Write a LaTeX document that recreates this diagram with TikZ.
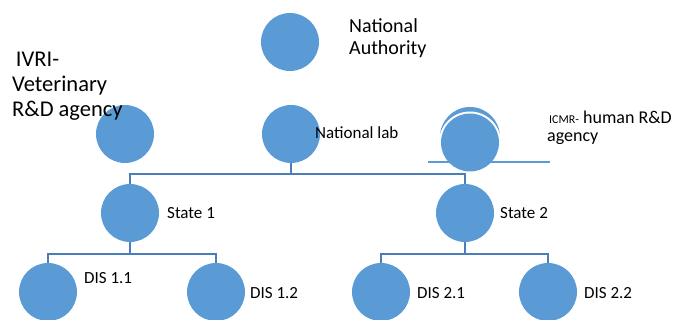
\documentclass[tikz,border=0pt]{standalone}
\usepackage{fontspec}
\setmainfont{Carlito}
\definecolor{nodefill}{HTML}{5B9BD5}
\definecolor{linec}{HTML}{4A7EBB}
\tikzset{
  dot/.style={circle, fill=nodefill, minimum size=58pt, inner sep=0pt, draw=none},
  link/.style={draw=linec, line width=2pt},
  lbl/.style={inner sep=0pt, anchor=base west, font=\fontsize{17}{21}\selectfont},
  icmrlbl/.style={inner sep=0pt, anchor=base west, font=\fontsize{18}{22}\selectfont},
  biglbl/.style={inner sep=0pt, anchor=base west, align=left, font=\fontsize{22.5}{25}\selectfont},
  midlbl/.style={inner sep=0pt, anchor=base west, align=left, font=\fontsize{20}{22}\selectfont}
}
\begin{document}
\begin{tikzpicture}[x=1pt,y=1pt]
\useasboundingbox (0,0) rectangle (689,320);
% top nodes (y = 320 - pixel row)
\node[dot] (auth) at (290,278) {};
\node[dot] (ivri) at (125,186) {};
\node[dot] (lab) at (291,186) {};
% ICMR node with crescent above and line
\fill[nodefill] (470,183) circle (30);
\fill[white] (470,177.5) circle (31);
\draw[draw=nodefill, line width=1.5pt] (428,158) coordinate (icl) -- (550,158) coordinate (icr);
\node[dot] (icmr) at (470,177.5) {};
% second level
\node[dot] (s1) at (130,107) {};
\node[dot] (s2) at (465,107) {};
% third level
\node[dot] (d11) at (48,28) {};
\node[dot] (d12) at (216,28) {};
\node[dot] (d21) at (381,28) {};
\node[dot] (d22) at (548,28) {};
% connectors
\draw[link] (lab.south) -- ++(0,-11) -| (s1.north);
\draw[link] (lab.south) -- ++(0,-11) -| (s2.north);
\draw[link] (s1.south) -- ++(0,-12) -| (d11.north);
\draw[link] (s1.south) -- ++(0,-12) -| (d12.north);
\draw[link] (s2.south) -- ++(0,-12) -| (d21.north);
\draw[link] (s2.south) -- ++(0,-12) -| (d22.north);
% labels (multi-line labels anchored at the baseline of their last line)
\node[midlbl] (tauth) at (349,265) {National\\Authority};
\node[biglbl] (tivri) at (12,203) {\,IVRI-\\Veterinary\\R\&D agency};
\node[lbl] (tlab) at (315,181) {National lab};
\node[icmrlbl] (ticmr) at (549,196) {{\fontsize{12}{14}\selectfont ICMR-} human R\&D};
\node[icmrlbl] (ticmr2) at (547,178) {agency};
\node[lbl] (ts1) at (167,101.5) {State 1};
\node[lbl] (ts2) at (500,101.5) {State 2};
\node[lbl] (td11) at (84,36) {DIS 1.1};
\node[lbl] (td12) at (250,21) {DIS 1.2};
\node[lbl] (td21) at (417,21) {DIS 2.1};
\node[lbl] (td22) at (584,21) {DIS 2.2};
\end{tikzpicture}
\end{document}
